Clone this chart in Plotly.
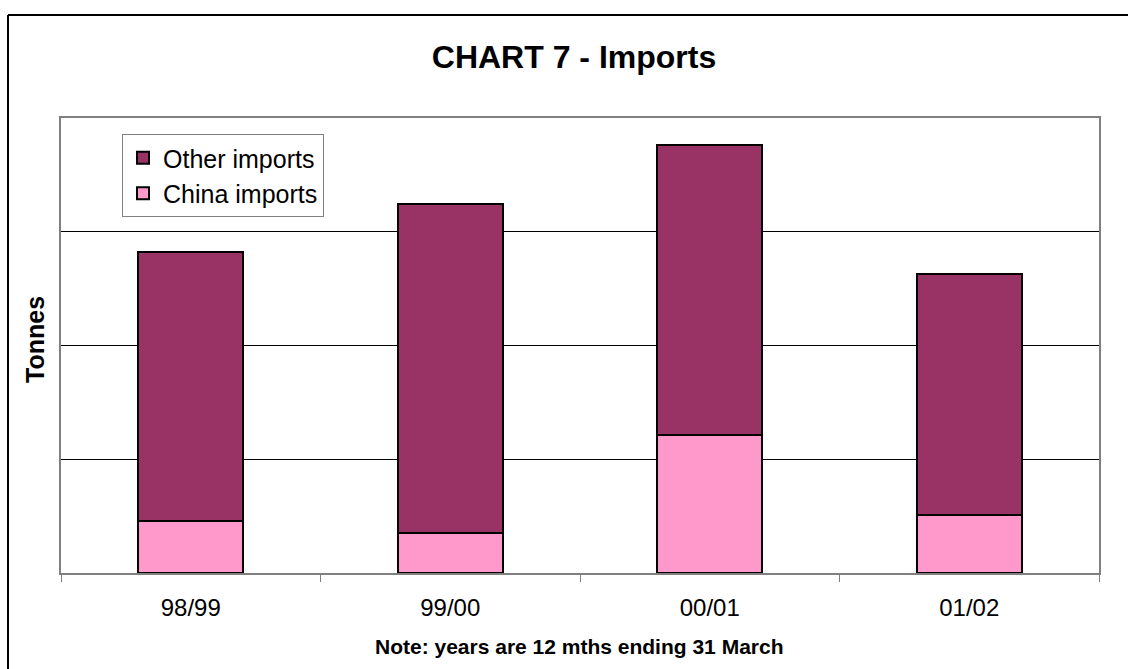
import plotly.graph_objects as go

# Financial years (12 months ending 31 March)
years = ["98/99", "99/00", "00/01", "01/02"]

# Import volumes (tonnes, in gridline units; the axis carries no value labels)
china_imports = [0.457, 0.352, 1.213, 0.510]
other_imports = [2.365, 2.892, 2.550, 2.119]

W, H = 1128, 669
L, R, T, B = 61, 1099, 118, 573  # plot-area edges in pixels

def px_x(p):
    return (p - L) / (R - L)

def px_y(p):
    return (B - p) / (B - T)

fig = go.Figure()
fig.add_trace(go.Bar(
    x=years, y=china_imports, name="China imports",
    marker=dict(color="#FF99CC", line=dict(color="#000000", width=2)),
))
fig.add_trace(go.Bar(
    x=years, y=other_imports, name="Other imports",
    marker=dict(color="#993366", line=dict(color="#000000", width=2)),
))

fig.update_layout(
    width=W, height=H,
    barmode="stack",
    bargap=0.595,
    plot_bgcolor="#FFFFFF",
    paper_bgcolor="#FFFFFF",
    margin=dict(l=L, r=W - R, t=T, b=H - B, pad=0),
    font=dict(family="Liberation Sans, Arial, sans-serif", color="#000000"),
    title=dict(
        text="<b>CHART 7 - Imports</b>",
        x=574 / W, xref="container", xanchor="center",
        y=1 - 57 / H, yref="container", yanchor="middle",
        font=dict(size=32, color="#000000"),
    ),
    showlegend=True,
    legend=dict(
        x=px_x(122), y=px_y(134), xanchor="left", yanchor="top",
        traceorder="reversed",
        bgcolor="#FFFFFF", bordercolor="#808080", borderwidth=1,
        font=dict(size=25, color="#000000"),
        itemsizing="constant",
        itemwidth=30,
        tracegroupgap=0,
    ),
    xaxis=dict(
        type="category",
        showline=True, linecolor="#808080", linewidth=2, mirror=True,
        ticks="outside", tickson="boundaries", ticklen=7, tickcolor="#808080",
        tickwidth=1,
        ticklabelstandoff=12,
        showgrid=False,
        tickfont=dict(size=24, color="#000000"),
        fixedrange=True,
    ),
    yaxis=dict(
        range=[0, 4],
        dtick=1,
        showticklabels=False,
        ticks="",
        showline=True, linecolor="#808080", linewidth=2, mirror=True,
        showgrid=True, gridcolor="#000000", gridwidth=1,
        zeroline=False,
        fixedrange=True,
    ),
    annotations=[
        dict(
            text="<b>Tonnes</b>", textangle=-90,
            xref="paper", yref="paper",
            x=px_x(35), y=px_y(340),
            xanchor="center", yanchor="middle",
            showarrow=False, font=dict(size=25, color="#000000"),
        ),
        dict(
            text="<b>Note: years are 12 mths ending 31 March</b>",
            xref="paper", yref="paper",
            x=px_x(579), y=px_y(646),
            xanchor="center", yanchor="middle",
            showarrow=False, font=dict(size=21, color="#000000"),
        ),
    ],
    shapes=[
        # outer chart frame (left and top edges)
        dict(type="line", xref="paper", yref="paper",
             x0=px_x(8), x1=px_x(8), y0=px_y(15), y1=px_y(H + 5),
             line=dict(color="#000000", width=2)),
        dict(type="line", xref="paper", yref="paper",
             x0=px_x(8), x1=px_x(W + 5), y0=px_y(15), y1=px_y(15),
             line=dict(color="#000000", width=2)),
    ],
)

fig.write_html("out.html", config={"displayModeBar": False})
